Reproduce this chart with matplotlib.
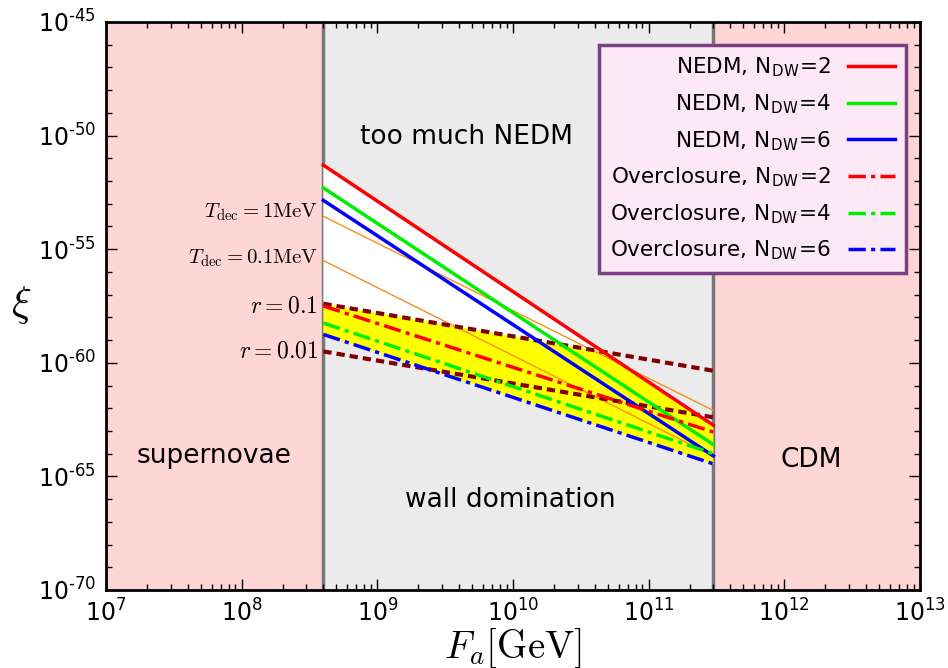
import numpy as np
import matplotlib
matplotlib.use("Agg")
import matplotlib.pyplot as plt
from matplotlib.ticker import NullFormatter, LogLocator, FixedLocator, FuncFormatter

plt.rcParams['font.family'] = ['DejaVu Sans']
plt.rcParams['mathtext.fontset'] = 'cm'
plt.rcParams['axes.unicode_minus'] = False

# ---- data ----
Fa = np.array([4.0e8, 3.0e11])            # x range of the constraint lines [GeV]
sn_bound = 4.0e8                           # supernovae bound
cdm_bound = 3.0e11                         # CDM bound
x_min, x_max = 1e7, 1e13
y_min, y_max = 1e-70, 1e-45

nedm2 = np.array([10**-51.3, 10**-62.75])
nedm4 = np.array([10**-52.3, 10**-63.6])
nedm6 = np.array([10**-52.85, 10**-64.1])
over2 = np.array([10**-57.5, 10**-63.05])
over4 = np.array([10**-58.25, 10**-64.0])
over6 = np.array([10**-58.75, 10**-64.45])
tdec1 = np.array([10**-53.55, 10**-62.1])
tdec01 = np.array([10**-55.5, 10**-64.1])
r01 = np.array([10**-57.4, 10**-60.35])
r001 = np.array([10**-59.5, 10**-62.4])

legend_labels = [r"NEDM, N$_\mathdefault{DW}$=2", r"NEDM, N$_\mathdefault{DW}$=4",
                 r"NEDM, N$_\mathdefault{DW}$=6", r"Overclosure, N$_\mathdefault{DW}$=2",
                 r"Overclosure, N$_\mathdefault{DW}$=4", r"Overclosure, N$_\mathdefault{DW}$=6"]

pink = '#ffd6d6'
grey = '#ebebeb'

fig = plt.figure(figsize=(9.48, 6.68), dpi=100)
ax = fig.add_axes([106/948, 1-590/668, (920-106)/948, (590-22)/668])
ax.set_xscale('log')
ax.set_yscale('log')
ax.set_xlim(x_min, x_max)
ax.set_ylim(y_min, y_max)

# background regions
ax.axvspan(x_min, sn_bound, color=pink, zorder=0, lw=0)
ax.axvspan(sn_bound, cdm_bound, color=grey, zorder=0, lw=0)
ax.axvspan(cdm_bound, x_max, color=pink, zorder=0, lw=0)
ax.axvline(sn_bound, color='#777777', lw=2.5, zorder=1)
ax.axvline(cdm_bound, color='#777777', lw=2.5, zorder=1)

# crossing of NEDM(N=2) with r=0.1 (in log space)
lx = np.log10(Fa)
def loglin(y):
    ly = np.log10(y)
    s = (ly[1]-ly[0])/(lx[1]-lx[0])
    return ly[0], s
a1, s1 = loglin(nedm2)
a2, s2 = loglin(r01)
dx = (a2 - a1)/(s1 - s2)
xc = 10**(lx[0] + dx)
yc = 10**(a1 + s1*dx)

# white region: between NEDM2 and r=0.1 (left of crossing)
ax.fill([Fa[0], xc, Fa[0]], [nedm2[0], yc, r01[0]], color='white', lw=0, zorder=1)
# yellow region: below min(NEDM2, r=0.1) and above overclosure N=6
ax.fill([Fa[0], xc, Fa[1], Fa[1], Fa[0]],
        [r01[0], yc, nedm2[1], over6[1], over6[0]], color='#ffff00', lw=0, zorder=1)

# thin orange T_dec lines
ax.plot(Fa, tdec1, color='#ff8c1a', lw=1, zorder=2)
ax.plot(Fa, tdec01, color='#ff8c1a', lw=1, zorder=2)
# r lines
ax.plot(Fa, r01, color='#800000', lw=3, ls=(0, (2, 1.2)), zorder=3)
ax.plot(Fa, r001, color='#800000', lw=3, ls=(0, (2, 1.2)), zorder=3)

h = []
h += ax.plot(Fa, nedm2, color='#ff0000', lw=2.5, zorder=4)
h += ax.plot(Fa, nedm4, color='#00ee00', lw=2.5, zorder=4)
h += ax.plot(Fa, nedm6, color='#0000ff', lw=2.5, zorder=4)
dd = (0, (5, 1.5, 1.2, 1.5))
h += ax.plot(Fa, over2, color='#ff0000', lw=2.5, ls=dd, zorder=4)
h += ax.plot(Fa, over4, color='#00ee00', lw=2.5, ls=dd, zorder=4)
h += ax.plot(Fa, over6, color='#0000ff', lw=2.5, ls=dd, zorder=4)

leg = ax.legend(h, legend_labels, loc='upper right', bbox_to_anchor=(906/948, 1-45/668),
                bbox_transform=fig.transFigure, markerfirst=False, fontsize=15.5,
                handlelength=2.2, fancybox=False, framealpha=1, borderaxespad=0,
                labelspacing=0.6, borderpad=0.5)
leg.get_frame().set_facecolor('#fde8f5')
leg.get_frame().set_edgecolor('#7b3f85')
leg.get_frame().set_linewidth(2.5)
leg.set_zorder(10)

# annotations
ax.text(10**9.66, 10**-50.06, 'too much NEDM', fontsize=19, ha='center', va='center')
ax.text(10**9.98, 10**-66.04, 'wall domination', fontsize=19, ha='center', va='center')
ax.text(10**7.80, 10**-64.1, 'supernovae', fontsize=19, ha='center', va='center')
ax.text(10**12.2, 10**-64.28, 'CDM', fontsize=19, ha='center', va='center')
lxl = 10**8.563
ax.text(lxl, 10**-53.36, r'$T_{\rm dec}=1{\rm MeV}$', fontsize=15, ha='right', va='center')
ax.text(lxl, 10**-55.39, r'$T_{\rm dec}=0.1{\rm MeV}$', fontsize=15, ha='right', va='center')
ax.text(lxl, 10**-57.46, r'$r=0.1$', fontsize=17, ha='right', va='center')
ax.text(lxl, 10**-59.44, r'$r=0.01$', fontsize=17, ha='right', va='center')

def pow_fmt(v, pos):
    e = int(round(np.log10(v)))
    es = ('\u2010' + str(-e)) if e < 0 else str(e)
    return r'$\mathdefault{10^{' + es + '}}$'

# ticks
ax.xaxis.set_major_locator(LogLocator(base=10, numticks=20))
ax.xaxis.set_major_formatter(FuncFormatter(pow_fmt))
ax.xaxis.set_minor_locator(LogLocator(base=10, subs=np.arange(2, 10), numticks=20))
ax.xaxis.set_minor_formatter(NullFormatter())
ax.yaxis.set_major_locator(FixedLocator([10.0**k for k in range(-70, -44, 5)]))
ax.yaxis.set_major_formatter(FuncFormatter(pow_fmt))
ax.yaxis.set_minor_locator(FixedLocator([10.0**k for k in range(-70, -44)]))
ax.yaxis.set_minor_formatter(NullFormatter())
ax.tick_params(which='both', direction='in', top=True, right=True, width=1)
ax.tick_params(which='major', length=8, labelsize=17, pad=7)
ax.tick_params(which='minor', length=4)
for s in ax.spines.values():
    s.set_linewidth(2)
    s.set_zorder(20)

ax.set_xlabel(r'$F_a[{\rm GeV}]$', fontsize=28, labelpad=0)
ax.set_ylabel(r'$\xi$', fontsize=30, rotation=0, ha='center', va='center')
ax.yaxis.set_label_coords(-0.104, 0.502)

fig.savefig('out.png', dpi=100)
